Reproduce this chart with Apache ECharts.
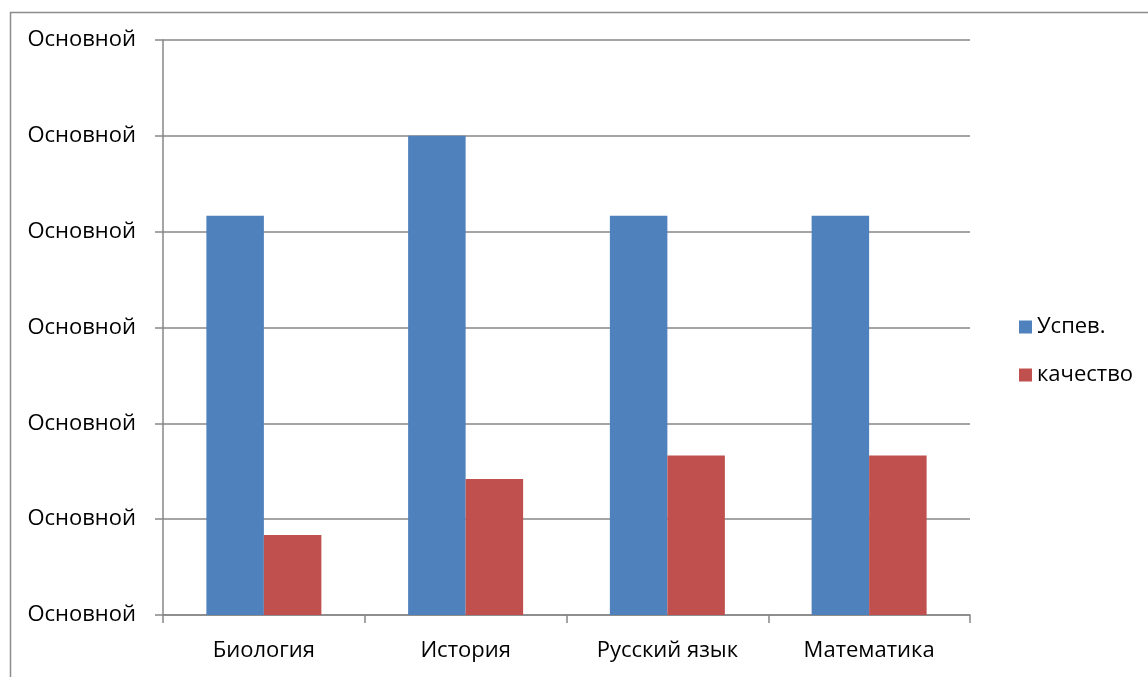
<!DOCTYPE html>
<html><head><meta charset="utf-8">
<script src="https://cdn.jsdelivr.net/npm/echarts@6/dist/echarts.min.js"></script>
<style>html,body{margin:0;padding:0;background:#fff}#c{width:1148px;height:677px}</style>
</head><body><div id="c"></div>
<script>
const categories = ['Биология', 'История', 'Русский язык', 'Математика'];
const uspev = [83.3, 100, 83.3, 83.3];
const kachestvo = [16.7, 28.4, 33.3, 33.3];
const yTickLabel = 'Основной';
const seriesNames = ['Успев.', 'качество'];

const chart = echarts.init(document.getElementById('c'));
const font = 'Open Sans, Noto Sans, sans-serif';
chart.setOption({
  animation: false,
  graphic: [{
    type: 'rect', left: 8, top: 10,
    shape: { width: 1200, height: 700 },
    style: { fill: 'none', stroke: '#8c8c8c', lineWidth: 1.5 }
  }],
  grid: { left: 163, right: 178, top: 40, bottom: 62 },
  legend: {
    orient: 'vertical', left: 1014, top: 311,
    itemWidth: 13, itemHeight: 13, itemGap: 26, icon: 'rect',
    textStyle: { fontFamily: font, fontSize: 22, color: '#000' },
    data: seriesNames
  },
  xAxis: {
    type: 'category', data: categories,
    axisLine: { lineStyle: { color: '#878787', width: 1.5 } },
    axisTick: { show: true, length: 8, lineStyle: { color: '#878787', width: 1.5 } },
    axisLabel: { fontFamily: font, fontSize: 22, color: '#000', margin: 25 }
  },
  yAxis: {
    type: 'value', min: 0, max: 120, interval: 20,
    axisLine: { show: true, lineStyle: { color: '#878787', width: 1.5 } },
    axisTick: { show: true, length: 8, lineStyle: { color: '#878787', width: 1.5 } },
    splitLine: { lineStyle: { color: '#878787', width: 1.5 } },
    axisLabel: { fontFamily: font, fontSize: 22, color: '#000', margin: 27, formatter: () => yTickLabel }
  },
  series: [
    { name: seriesNames[0], type: 'bar', data: uspev, barGap: '0%', barCategoryGap: '43%',
      itemStyle: { color: '#4F81BD' } },
    { name: seriesNames[1], type: 'bar', data: kachestvo, barGap: '0%', barCategoryGap: '43%',
      itemStyle: { color: '#C0504D' } }
  ]
});
</script></body></html>
